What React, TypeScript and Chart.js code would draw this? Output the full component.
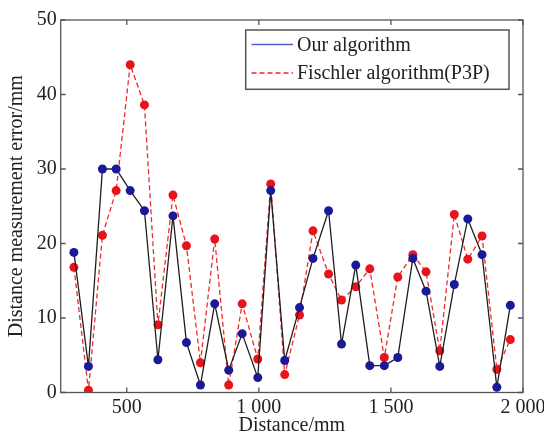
import React, { useEffect, useRef } from 'react';
import { Chart, registerables } from 'chart.js';

Chart.register(...registerables);

const distances = [300, 355, 408, 460, 513, 567, 618, 675, 726, 779, 833, 886, 937, 996, 1045, 1098, 1154, 1205, 1264, 1313, 1367, 1420, 1475, 1526, 1583, 1633, 1685, 1740, 1791, 1845, 1901, 1952];
const ourErrors = [18.8, 3.5, 30.0, 30.0, 27.1, 24.4, 4.4, 23.7, 6.7, 1.0, 11.9, 3.0, 7.9, 2.0, 27.1, 4.3, 11.4, 18.0, 24.4, 6.5, 17.1, 3.6, 3.6, 4.7, 18.0, 13.6, 3.5, 14.5, 23.3, 18.5, 0.7, 11.7];
const fischlerErrors = [16.8, 0.3, 21.1, 27.1, 44.0, 38.6, 9.1, 26.5, 19.7, 4.0, 20.6, 1.0, 11.9, 4.5, 28.0, 2.4, 10.4, 21.7, 15.9, 12.4, 14.2, 16.6, 4.7, 15.5, 18.5, 16.2, 5.6, 23.9, 17.9, 21.0, 3.1, 7.1];
const xTicks = [500, 1000, 1500, 2000];
const xTickLabels = ['500', '1 000', '1 500', '2 000'];
const yTicks = [0, 10, 20, 30, 40, 50];
const seriesNames = ['Our algorithm', 'Fischler algorithm(P3P)'];

const FONT = '"Liberation Serif", "Times New Roman", serif';
const FRAME = '#555555';

const framePlugin = {
  id: 'frameAndLegend',
  afterDraw(chart: any) {
    const { ctx, chartArea } = chart;
    const { left, right, top, bottom } = chartArea;
    const xs = chart.scales.x;
    const ys = chart.scales.y;
    ctx.save();
    ctx.strokeStyle = FRAME;
    ctx.lineWidth = 1.3;
    ctx.strokeRect(left, top, right - left, bottom - top);
    const tl = 5;
    ctx.beginPath();
    xTicks.forEach((v) => {
      const px = xs.getPixelForValue(v);
      ctx.moveTo(px, bottom);
      ctx.lineTo(px, bottom - tl);
      ctx.moveTo(px, top);
      ctx.lineTo(px, top + tl);
    });
    yTicks.forEach((v) => {
      const py = ys.getPixelForValue(v);
      ctx.moveTo(left, py);
      ctx.lineTo(left + tl, py);
      ctx.moveTo(right, py);
      ctx.lineTo(right - tl, py);
    });
    ctx.stroke();

    // legend
    const bx = 245.7, by = 30, bw = 509 - 245.7, bh = 89.3 - 30;
    ctx.fillStyle = '#ffffff';
    ctx.fillRect(bx, by, bw, bh);
    ctx.strokeStyle = FRAME;
    ctx.lineWidth = 1.5;
    ctx.strokeRect(bx, by, bw, bh);

    ctx.lineWidth = 1.4;
    ctx.strokeStyle = '#5b5bd0';
    ctx.setLineDash([]);
    ctx.beginPath();
    ctx.moveTo(251.5, 44.5);
    ctx.lineTo(293, 44.5);
    ctx.stroke();

    ctx.strokeStyle = '#ee2a2a';
    ctx.setLineDash([5, 3]);
    ctx.beginPath();
    ctx.moveTo(251.5, 73);
    ctx.lineTo(293, 73);
    ctx.stroke();
    ctx.setLineDash([]);

    ctx.fillStyle = '#222222';
    ctx.font = `20px ${FONT}`;
    ctx.textAlign = 'left';
    ctx.textBaseline = 'alphabetic';
    ctx.fillText(seriesNames[0], 297, 50.5);
    ctx.fillText(seriesNames[1], 297, 79);
    ctx.restore();
  },
};

export default function App() {
  const ref = useRef<HTMLCanvasElement | null>(null);

  useEffect(() => {
    const canvas = ref.current;
    if (!canvas) return;
    const chart = new Chart(canvas, {
      type: 'line',
      data: {
        datasets: [
          {
            label: seriesNames[0],
            data: distances.map((d, i) => ({ x: d, y: ourErrors[i] })),
            borderColor: '#1e1e1e',
            borderWidth: 1.3,
            pointBackgroundColor: '#1a1a96',
            pointBorderColor: '#1a1a96',
            pointRadius: 4.5,
            pointBorderWidth: 0,
            tension: 0,
          },
          {
            label: seriesNames[1],
            data: distances.map((d, i) => ({ x: d, y: fischlerErrors[i] })),
            borderColor: '#ee2a2a',
            borderWidth: 1.3,
            borderDash: [5, 3],
            pointBackgroundColor: '#e8141c',
            pointBorderColor: '#e8141c',
            pointRadius: 4.5,
            pointBorderWidth: 0,
            tension: 0,
          },
        ],
      },
      options: {
        animation: false,
        responsive: false,
        maintainAspectRatio: false,
        layout: { padding: { left: 0, top: 20, right: 21, bottom: 0 } },
        plugins: {
          legend: { display: false },
          tooltip: { enabled: false },
        },
        scales: {
          x: {
            type: 'linear',
            min: 250,
            max: 2000,
            grid: { display: false, drawTicks: false },
            border: { display: false },
            afterBuildTicks: (scale: any) => {
              scale.ticks = xTicks.map((v) => ({ value: v }));
            },
            afterFit: (scale: any) => {
              scale.height = 45.5;
              scale.paddingLeft = 0;
              scale.paddingRight = 0;
            },
            ticks: {
              autoSkip: false,
              maxRotation: 0,
              padding: 3,
              color: '#222222',
              font: { family: FONT, size: 20 },
              callback: (v: any) => {
                const i = xTicks.indexOf(Number(v));
                return i >= 0 ? xTickLabels[i] : '';
              },
            },
            title: {
              display: true,
              text: 'Distance/mm',
              color: '#222222',
              font: { family: FONT, size: 20 },
              padding: { top: 0, bottom: 0 },
            },
          },
          y: {
            type: 'linear',
            min: 0,
            max: 50,
            grid: { display: false, drawTicks: false },
            border: { display: false },
            afterBuildTicks: (scale: any) => {
              scale.ticks = yTicks.map((v) => ({ value: v }));
            },
            afterFit: (scale: any) => {
              scale.width = 60.7;
              scale.paddingTop = 0;
              scale.paddingBottom = 0;
            },
            ticks: {
              padding: 4,
              color: '#222222',
              font: { family: FONT, size: 20 },
            },
            title: {
              display: true,
              text: 'Distance measurement error/mm',
              color: '#222222',
              font: { family: FONT, size: 20 },
              padding: { top: 5, bottom: 0 },
            },
          },
        },
      },
      plugins: [framePlugin],
    });
    return () => chart.destroy();
  }, []);

  return (
    <div style={{ position: 'fixed', left: 0, top: 0, width: 544, height: 438, background: '#ffffff' }}>
      <canvas ref={ref} width={544} height={438} style={{ width: 544, height: 438, display: 'block' }} />
    </div>
  );
}
